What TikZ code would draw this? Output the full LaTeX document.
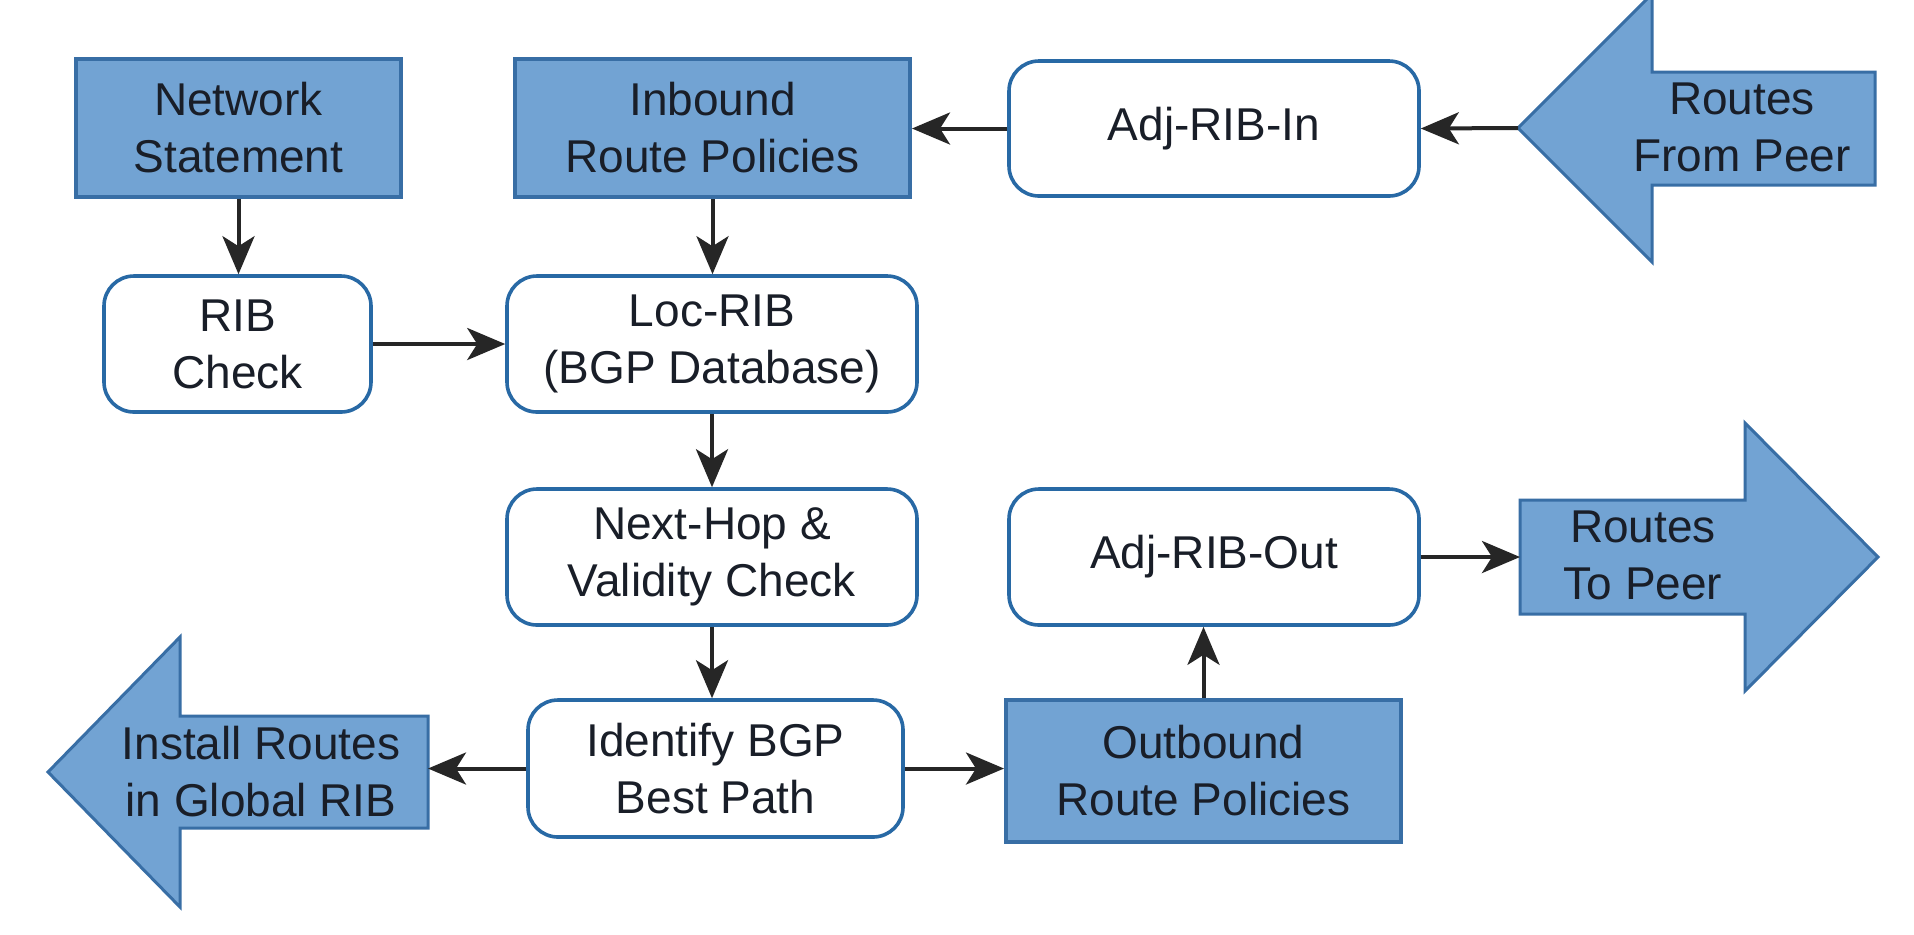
\documentclass[tikz,border=0pt]{standalone}
\usepackage{fontspec}
\setmainfont{Liberation Sans}
\usetikzlibrary{arrows.meta}
\definecolor{bfill}{RGB}{114,163,211}
\definecolor{bdr}{RGB}{56,110,165}
\definecolor{rbdr}{RGB}{40,105,165}
\definecolor{txt}{RGB}{25,30,40}
\begin{document}
\begin{tikzpicture}[x=0.5pt,y=-0.5pt,
  every node/.style={font=\fontsize{23}{28.5}\selectfont, text=txt, align=center, inner sep=0pt},
  polbox/.style={draw=bdr, fill=bfill, line width=2pt},
  ribbox/.style={draw=rbdr, fill=white, line width=1.8pt, rounded corners=15pt},
  bigarrow/.style={draw=bdr, fill=bfill, line width=1.5pt, line join=miter},
  flow/.style={draw=black!85, line width=2pt, -{Stealth[length=19pt,width=16pt,inset=5pt]}}
]
\fill[white] (0,0) rectangle (1914,934);
\useasboundingbox (0,0) rectangle (1914,934);

% boxes
\node[polbox, minimum width=162.5pt, minimum height=69pt] (ns) at (238.5,128) {Network\\Statement};
\node[polbox, minimum width=197.5pt, minimum height=69pt] (irp) at (712.5,128) {Inbound\\Route Policies};
\node[ribbox, minimum width=205pt, minimum height=67.5pt] (ain) at (1214,128.5) {Adj-RIB-In};
\node[ribbox, minimum width=133.5pt, minimum height=68pt] (ribc) at (237.5,344) {RIB\\Check};
\node[ribbox, minimum width=205pt, minimum height=68pt] (loc) at (712,344) {Loc-RIB\\(BGP Database)};
\node[ribbox, minimum width=205pt, minimum height=68pt] (nh) at (712,557) {Next-Hop \&\\Validity Check};
\node[ribbox, minimum width=187.5pt, minimum height=68.5pt] (ibp) at (715.5,768.5) {Identify BGP\\Best Path};
\node[ribbox, minimum width=205pt, minimum height=68pt] (aro) at (1214,557) {Adj-RIB-Out};
\node[polbox, minimum width=197.5pt, minimum height=71pt] (orp) at (1203.5,771) {Outbound\\Route Policies};

% big arrows
\draw[bigarrow] (1518,128) -- (1652,-6) -- (1652,72) -- (1875,72) -- (1875,185) -- (1652,185) -- (1652,262) -- cycle;
\coordinate (rfptip) at (1518,128);
\node (rfp) at (1742,127) {Routes\\From Peer};

\draw[bigarrow] (1520,500) -- (1745,500) -- (1745,423) -- (1878,557) -- (1745,691) -- (1745,614) -- (1520,614) -- cycle;
\coordinate (rtpin) at (1520,557);
\node (rtp) at (1643,555) {Routes\\To Peer};

\draw[bigarrow] (48,772) -- (180,637) -- (180,716) -- (428,716) -- (428,828) -- (180,828) -- (180,907) -- cycle;
\coordinate (instin) at (428,770);
\node (inst) at (261,772) {Install Routes\\in Global RIB};

% connectors
\draw[flow] (rfptip) -- (ain.east);
\draw[flow] (ain.west) -- (ain.west -| irp.east);
\draw[flow] (ns.south) -- (ns.south |- ribc.north);
\draw[flow] (irp.south) -- (irp.south |- loc.north);
\draw[flow] (ribc.east) -- (ribc.east -| loc.west);
\draw[flow] (loc.south) -- (nh.north);
\draw[flow] (nh.south) -- (nh.south |- ibp.north);
\draw[flow] (ibp.west) -- (ibp.west -| instin);
\draw[flow] (ibp.east) -- (ibp.east -| orp.west);
\draw[flow] (orp.north) -- (orp.north |- aro.south);
\draw[flow] (aro.east) -- (rtpin);
\end{tikzpicture}
\end{document}
